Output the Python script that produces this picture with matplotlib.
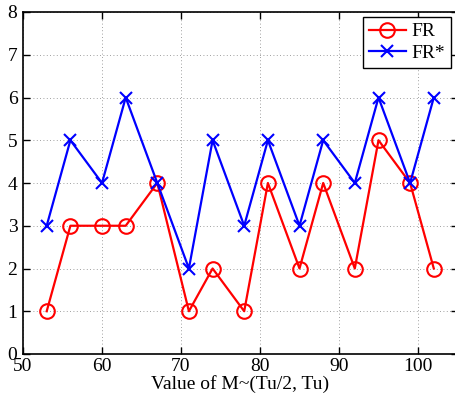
import numpy as np
import matplotlib
matplotlib.use('Agg')
import matplotlib.pyplot as plt

# M values and the two rates
m_vals = [53, 56, 60, 63, 67, 71, 74, 78, 81, 85, 88, 92, 95, 99, 102]
fr = [1, 3, 3, 3, 4, 1, 2, 1, 4, 2, 4, 2, 5, 4, 2]
fr_star = [3, 5, 4, 6, 4, 2, 5, 3, 5, 3, 5, 4, 6, 4, 6]

FONT = 14

plt.rcParams['font.family'] = ['Liberation Serif', 'DejaVu Serif']

fig = plt.figure(figsize=(4.56, 4.05), dpi=100)
ax = fig.add_axes([23/456, 51/405, 434.5/456, 342/405])

ax.plot(m_vals, fr, 'r-o', lw=1.6, ms=10.5, mfc='none', mew=1.5, label='FR')
ax.plot(m_vals, fr_star, 'b-x', lw=1.6, ms=9, mew=1.5, label='FR*')

ax.set_xlim(50, 105)
ax.set_ylim(0, 8)
ax.set_xticks(np.arange(50, 101, 10))
ax.set_yticks(np.arange(0, 9, 1))
ax.grid(True, ls=(0, (1, 3)), color='#808080', lw=0.6)
ax.tick_params(direction='in', length=5, labelsize=FONT, top=True, right=True, width=1)
ax.tick_params(axis='x', pad=3)
ax.tick_params(axis='y', pad=4)
for sp in ax.spines.values():
    sp.set_linewidth(1.2)

ax.set_xlabel('Value of M~(Tu/2, Tu)', fontsize=FONT, labelpad=0)

leg = ax.legend(loc='upper right', bbox_to_anchor=(428/434.5, 1 - 5/342), borderaxespad=0,
                fontsize=FONT, fancybox=False, edgecolor='black', framealpha=1,
                handlelength=1.9, borderpad=0.3, labelspacing=0.2, handletextpad=0.3)
leg.get_frame().set_linewidth(1.0)

fig.savefig('out.png', dpi=100)
